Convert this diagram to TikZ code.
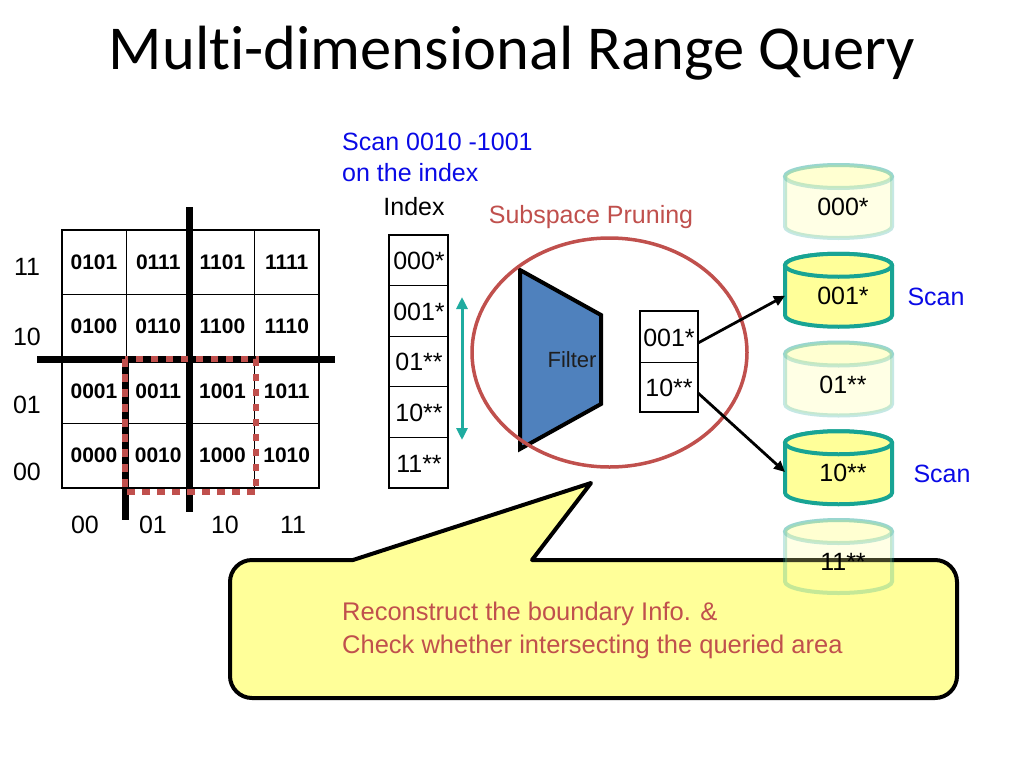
\documentclass[tikz,border=0pt]{standalone}
\usepackage{fontspec}
\setmainfont{Liberation Sans}
\newfontfamily\titlefont{Carlito}
\usetikzlibrary{arrows.meta}
\definecolor{redc}{RGB}{192,80,77}
\definecolor{tealc}{RGB}{24,164,148}
\definecolor{arrteal}{RGB}{31,172,160}
\definecolor{yel}{RGB}{255,255,153}
\definecolor{filterblue}{RGB}{79,129,189}
\definecolor{bluetxt}{RGB}{10,10,230}
\newcommand{\cylshape}[5]{% name, top y, label, opacity, label y
  \begin{scope}[opacity=#4]
    \path[fill=yel, draw=tealc, line width=4]
      (785,#2+11.5) -- (785,#2+73-11.5) arc(180:0:53.5 and 11.5) -- (892,#2+11.5) arc(0:-180:53.5 and 11.5) -- cycle;
    \draw[fill=yel, draw=tealc, line width=4] (838.5,#2+11.5) ellipse (53.5 and 11.5);
  \end{scope}
  \coordinate (#1w) at (785,#2+42);
  \node[txt] (#1t) at (843,#2+42) {#3};
}
\begin{document}
\begin{tikzpicture}[x=1pt,y=-1pt,
  txt/.style={font=\fontsize{25}{30}\selectfont, inner sep=0pt},
  celltxt/.style={font=\fontsize{21}{25}\selectfont\bfseries, inner sep=0pt},
  thickline/.style={line width=7},
  arr/.style={line width=2.8, -{Triangle[length=11,width=10]}}]
\useasboundingbox[fill=white] (0,0) rectangle (1024,768);

% title
\node[font=\titlefont\fontsize{62.5}{70}\selectfont, anchor=base, inner sep=0pt] (title) at (512,70) {Mult\kern0pt i-dimensional Range Query};

% grid
\foreach \i in {1,2,3} \draw[line width=1] (62+64.25*\i,230) -- (62+64.25*\i,488);
\foreach \j in {1,2,3} \draw[line width=1] (62,230+64.5*\j) -- (319,230+64.5*\j);
\draw[line width=2.6] (62,230) rectangle (319,488);
\foreach \t [count=\k from 0] in {0101,0111,1101,1111} \node[celltxt] (ca\k) at (62+64.25*\k+32,230+32.25) {\t};
\foreach \t [count=\k from 0] in {0100,0110,1100,1110} \node[celltxt] (cb\k) at (62+64.25*\k+32,230+64.5+32.25) {\t};
\foreach \t [count=\k from 0] in {0001,0011,1001,1011} \node[celltxt] (cc\k) at (62+64.25*\k+32,230+129+32.25) {\t};
\foreach \t [count=\k from 0] in {0000,0010,1000,1010} \node[celltxt] (cd\k) at (62+64.25*\k+32,230+193.5+32.25) {\t};
\draw[thickline] (189,207) -- (189,512);
\draw[thickline] (37,359) -- (335,359);
\draw[thickline] (125,359) -- (125,520);
\draw[redc, line width=6, dash pattern=on 7.5 off 7.5] (125,359) rectangle (256,492);

% axis labels
\node[txt] (r11) at (27,267) {11};
\node[txt] (r10) at (27,337) {10};
\node[txt] (r01) at (27,405) {01};
\node[txt] (r00) at (27,472) {00};
\node[txt] (x00) at (85,525) {00};
\node[txt] (x01) at (153,525) {01};
\node[txt] (x10) at (225,525) {10};
\node[txt] (x11) at (293,525) {11};

% scan text
\node[txt, text=bluetxt, anchor=west, align=left, font=\fontsize{25}{31}\selectfont] (scantxt) at (342,157) {Scan 0010 -1001\\on the index};
\node[txt] (indexlbl) at (414,207) {Index};
\node[txt, text=redc] (prune) at (591,217) {Subspace Pruning};

% index column
\foreach \t [count=\k from 0] in {000*,001*,01**,10**,11**} {
  \draw[line width=1] (389,235+50.6*\k) -- (448,235+50.6*\k);
  \node[txt] (ix\k) at (419,235+50.6*\k+26) {\t};
}
\draw[line width=2.6] (389,235) rectangle (448,488);

% teal double arrow
\coordinate (ta) at (462,297);
\coordinate (tb) at (462,440);
\draw[arrteal, line width=3, {Triangle[length=12,width=11]}-{Triangle[length=12,width=11]}] (ta) -- (tb);

% filter
\draw[fill=filterblue, line width=4, line join=miter] (520,270) -- (601,315) -- (601,404) -- (520,449) -- cycle;
\node[font=\fontsize{22}{26}\selectfont, inner sep=0pt, text={rgb,255:red,30;green,30;blue,30}] (filter) at (572,360) {Filter};

% ellipse
\draw[redc, line width=3.5] (609.5,352.5) ellipse (137.5 and 114.5);

% small box
\draw[line width=1] (640,362) -- (698,362);
\draw[line width=2.6] (640,311) rectangle (698,412);
\node[txt] (b1) at (669,338) {001*};
\node[txt] (b2) at (669,388) {10**};
\coordinate (b1e) at (698,343);
\coordinate (b2e) at (698,393);

% callout
\draw[fill=yel, line width=4, line join=round] (532,560) [rounded corners=22] -- (957,560) -- (957,698) -- (230,698) -- (230,560) -- (300,560) [sharp corners] -- (353,560) -- (591,483) -- cycle;
\node[txt, text=redc, anchor=west, align=left, font=\fontsize{25.5}{33}\selectfont] (calltxt) at (342,630) {Reconstruct the boundary Info. \&\\Check whether intersecting the queried area};

% cylinders
\cylshape{c0}{165}{000*}{0.25}{}
\cylshape{c1}{253.75}{001*}{1}{}
\cylshape{c2}{342.5}{01**}{0.25}{}
\cylshape{c3}{431.25}{10**}{1}{}
\cylshape{c4}{520}{11**}{0.25}{}

\node[txt, text=bluetxt] (scan1) at (936,297) {Scan};
\node[txt, text=bluetxt] (scan2) at (942,474) {Scan};

% arrows
\draw[arr] (b1e) -- (c1w);
\draw[arr] (b2e) -- (785,472);
\end{tikzpicture}
\end{document}
